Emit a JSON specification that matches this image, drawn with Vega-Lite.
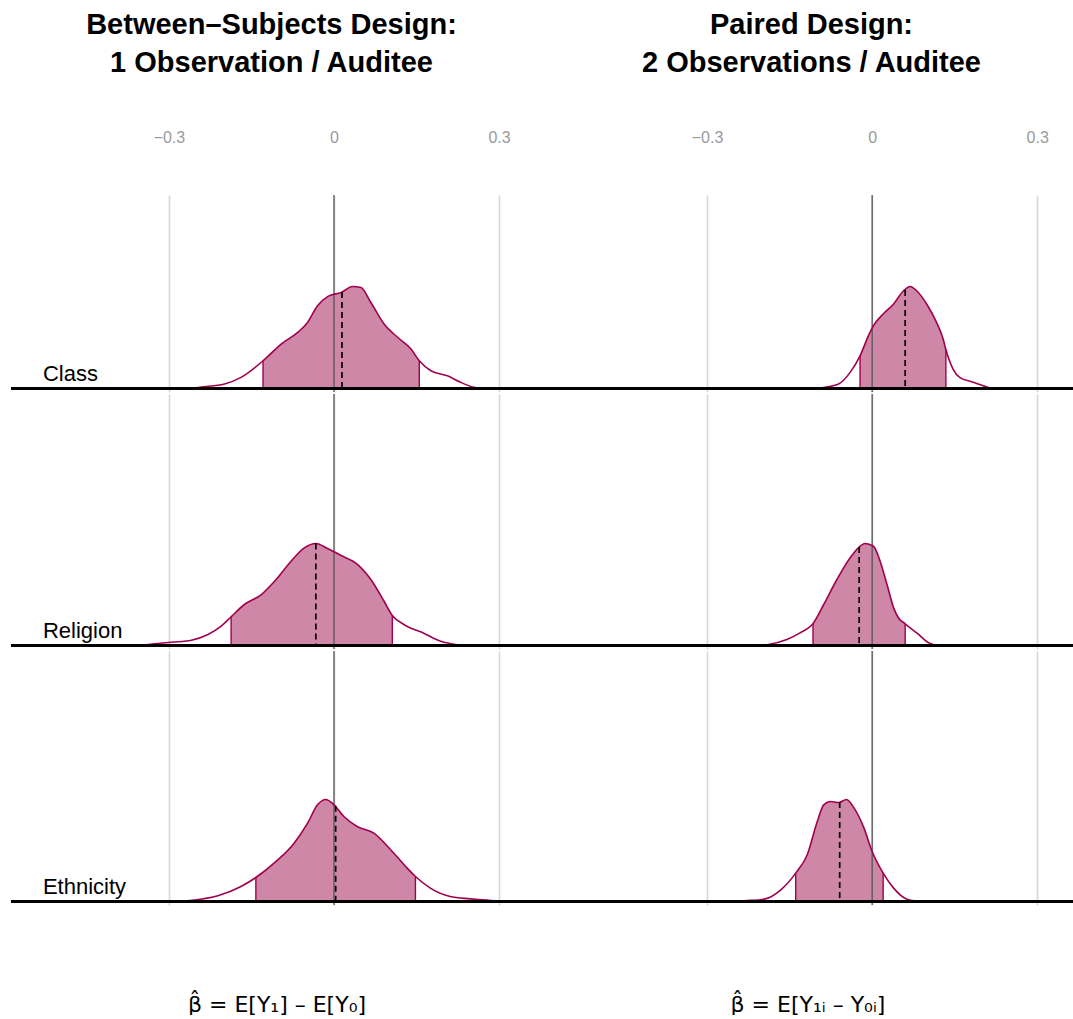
{
  "$schema": "https://vega.github.io/schema/vega-lite/v6.json",
  "padding": {"left": 9, "top": 11, "right": 0, "bottom": 0},
  "background": "white",
  "config": {
    "view": {"stroke": null},
    "font": "Liberation Sans",
    "axis": {"gridColor": "#d6d6d6", "gridWidth": 1.6, "domain": false, "ticks": false, "tickSize": 0, "labelFont": "Liberation Sans", "titleFont": "DejaVu Sans"},
    "title": {"font": "Liberation Sans", "fontSize": 29, "fontWeight": "bold", "color": "black", "lineHeight": 38, "anchor": "middle", "frame": "group"}
  },
  "datasets": {
    "curves": [
      {"d":"B","c":"Class","x":-0.259,"h":0,"i":0},
      {"d":"B","c":"Class","x":-0.244,"h":0.012,"i":0},
      {"d":"B","c":"Class","x":-0.199,"h":0.044,"i":0},
      {"d":"B","c":"Class","x":-0.169,"h":0.109,"i":0},
      {"d":"B","c":"Class","x":-0.129,"h":0.271,"i":1},
      {"d":"B","c":"Class","x":-0.096,"h":0.436,"i":1},
      {"d":"B","c":"Class","x":-0.066,"h":0.55,"i":1},
      {"d":"B","c":"Class","x":-0.048,"h":0.648,"i":1},
      {"d":"B","c":"Class","x":-0.03,"h":0.811,"i":1},
      {"d":"B","c":"Class","x":-0.011,"h":0.903,"i":1},
      {"d":"B","c":"Class","x":0.013,"h":0.942,"i":1},
      {"d":"B","c":"Class","x":0.034,"h":1.0,"i":1},
      {"d":"B","c":"Class","x":0.049,"h":0.99,"i":1},
      {"d":"B","c":"Class","x":0.067,"h":0.843,"i":1},
      {"d":"B","c":"Class","x":0.091,"h":0.632,"i":1},
      {"d":"B","c":"Class","x":0.116,"h":0.5,"i":1},
      {"d":"B","c":"Class","x":0.14,"h":0.387,"i":1},
      {"d":"B","c":"Class","x":0.155,"h":0.271,"i":1},
      {"d":"B","c":"Class","x":0.176,"h":0.174,"i":0},
      {"d":"B","c":"Class","x":0.206,"h":0.125,"i":0},
      {"d":"B","c":"Class","x":0.23,"h":0.061,"i":0},
      {"d":"B","c":"Class","x":0.254,"h":0.012,"i":0},
      {"d":"B","c":"Class","x":0.266,"h":0,"i":0},

      {"d":"P","c":"Class","x":-0.103,"h":0,"i":0},
      {"d":"P","c":"Class","x":-0.091,"h":0.008,"i":0},
      {"d":"P","c":"Class","x":-0.061,"h":0.044,"i":0},
      {"d":"P","c":"Class","x":-0.04,"h":0.158,"i":0},
      {"d":"P","c":"Class","x":-0.022,"h":0.32,"i":1},
      {"d":"P","c":"Class","x":-0.0067,"h":0.518,"i":1},
      {"d":"P","c":"Class","x":0.0024,"h":0.616,"i":1},
      {"d":"P","c":"Class","x":0.02,"h":0.73,"i":1},
      {"d":"P","c":"Class","x":0.039,"h":0.828,"i":1},
      {"d":"P","c":"Class","x":0.057,"h":0.958,"i":1},
      {"d":"P","c":"Class","x":0.069,"h":1.0,"i":1},
      {"d":"P","c":"Class","x":0.081,"h":0.958,"i":1},
      {"d":"P","c":"Class","x":0.099,"h":0.828,"i":1},
      {"d":"P","c":"Class","x":0.117,"h":0.648,"i":1},
      {"d":"P","c":"Class","x":0.129,"h":0.485,"i":1},
      {"d":"P","c":"Class","x":0.134,"h":0.38,"i":1},
      {"d":"P","c":"Class","x":0.147,"h":0.191,"i":0},
      {"d":"P","c":"Class","x":0.159,"h":0.109,"i":0},
      {"d":"P","c":"Class","x":0.184,"h":0.061,"i":0},
      {"d":"P","c":"Class","x":0.214,"h":0.008,"i":0},
      {"d":"P","c":"Class","x":0.223,"h":0,"i":0},

      {"d":"B","c":"Religion","x":-0.35,"h":0,"i":0},
      {"d":"B","c":"Religion","x":-0.338,"h":0.01,"i":0},
      {"d":"B","c":"Religion","x":-0.295,"h":0.032,"i":0},
      {"d":"B","c":"Religion","x":-0.259,"h":0.052,"i":0},
      {"d":"B","c":"Religion","x":-0.229,"h":0.108,"i":0},
      {"d":"B","c":"Religion","x":-0.205,"h":0.189,"i":0},
      {"d":"B","c":"Religion","x":-0.187,"h":0.281,"i":1},
      {"d":"B","c":"Religion","x":-0.163,"h":0.402,"i":1},
      {"d":"B","c":"Religion","x":-0.132,"h":0.5,"i":1},
      {"d":"B","c":"Religion","x":-0.108,"h":0.63,"i":1},
      {"d":"B","c":"Religion","x":-0.078,"h":0.826,"i":1},
      {"d":"B","c":"Religion","x":-0.054,"h":0.957,"i":1},
      {"d":"B","c":"Religion","x":-0.033,"h":1.0,"i":1},
      {"d":"B","c":"Religion","x":-0.011,"h":0.948,"i":1},
      {"d":"B","c":"Religion","x":0.013,"h":0.882,"i":1},
      {"d":"B","c":"Religion","x":0.043,"h":0.794,"i":1},
      {"d":"B","c":"Religion","x":0.067,"h":0.647,"i":1},
      {"d":"B","c":"Religion","x":0.091,"h":0.434,"i":1},
      {"d":"B","c":"Religion","x":0.106,"h":0.294,"i":1},
      {"d":"B","c":"Religion","x":0.127,"h":0.206,"i":0},
      {"d":"B","c":"Religion","x":0.164,"h":0.118,"i":0},
      {"d":"B","c":"Religion","x":0.194,"h":0.042,"i":0},
      {"d":"B","c":"Religion","x":0.224,"h":0.007,"i":0},
      {"d":"B","c":"Religion","x":0.234,"h":0,"i":0},

      {"d":"P","c":"Religion","x":-0.203,"h":0,"i":0},
      {"d":"P","c":"Religion","x":-0.191,"h":0.007,"i":0},
      {"d":"P","c":"Religion","x":-0.155,"h":0.059,"i":0},
      {"d":"P","c":"Religion","x":-0.131,"h":0.124,"i":0},
      {"d":"P","c":"Religion","x":-0.1075,"h":0.213,"i":1},
      {"d":"P","c":"Religion","x":-0.088,"h":0.402,"i":1},
      {"d":"P","c":"Religion","x":-0.064,"h":0.647,"i":1},
      {"d":"P","c":"Religion","x":-0.04,"h":0.86,"i":1},
      {"d":"P","c":"Religion","x":-0.025,"h":0.958,"i":1},
      {"d":"P","c":"Religion","x":-0.013,"h":1.0,"i":1},
      {"d":"P","c":"Religion","x":0.0024,"h":0.973,"i":1},
      {"d":"P","c":"Religion","x":0.0145,"h":0.826,"i":1},
      {"d":"P","c":"Religion","x":0.027,"h":0.598,"i":1},
      {"d":"P","c":"Religion","x":0.039,"h":0.369,"i":1},
      {"d":"P","c":"Religion","x":0.048,"h":0.27,"i":1},
      {"d":"P","c":"Religion","x":0.06,"h":0.213,"i":1},
      {"d":"P","c":"Religion","x":0.081,"h":0.124,"i":0},
      {"d":"P","c":"Religion","x":0.105,"h":0.02,"i":0},
      {"d":"P","c":"Religion","x":0.123,"h":0,"i":0},

      {"d":"B","c":"Ethnicity","x":-0.278,"h":0,"i":0},
      {"d":"B","c":"Ethnicity","x":-0.266,"h":0.007,"i":0},
      {"d":"B","c":"Ethnicity","x":-0.211,"h":0.056,"i":0},
      {"d":"B","c":"Ethnicity","x":-0.169,"h":0.147,"i":0},
      {"d":"B","c":"Ethnicity","x":-0.142,"h":0.235,"i":1},
      {"d":"B","c":"Ethnicity","x":-0.109,"h":0.376,"i":1},
      {"d":"B","c":"Ethnicity","x":-0.0725,"h":0.572,"i":1},
      {"d":"B","c":"Ethnicity","x":-0.048,"h":0.768,"i":1},
      {"d":"B","c":"Ethnicity","x":-0.03,"h":0.948,"i":1},
      {"d":"B","c":"Ethnicity","x":-0.015,"h":1.0,"i":1},
      {"d":"B","c":"Ethnicity","x":0.0,"h":0.948,"i":1},
      {"d":"B","c":"Ethnicity","x":0.018,"h":0.833,"i":1},
      {"d":"B","c":"Ethnicity","x":0.042,"h":0.735,"i":1},
      {"d":"B","c":"Ethnicity","x":0.0725,"h":0.67,"i":1},
      {"d":"B","c":"Ethnicity","x":0.103,"h":0.507,"i":1},
      {"d":"B","c":"Ethnicity","x":0.133,"h":0.327,"i":1},
      {"d":"B","c":"Ethnicity","x":0.148,"h":0.245,"i":1},
      {"d":"B","c":"Ethnicity","x":0.175,"h":0.131,"i":0},
      {"d":"B","c":"Ethnicity","x":0.211,"h":0.049,"i":0},
      {"d":"B","c":"Ethnicity","x":0.248,"h":0.026,"i":0},
      {"d":"B","c":"Ethnicity","x":0.296,"h":0.004,"i":0},
      {"d":"B","c":"Ethnicity","x":0.302,"h":0,"i":0},

      {"d":"P","c":"Ethnicity","x":-0.248,"h":0,"i":0},
      {"d":"P","c":"Ethnicity","x":-0.233,"h":0.007,"i":0},
      {"d":"P","c":"Ethnicity","x":-0.196,"h":0.023,"i":0},
      {"d":"P","c":"Ethnicity","x":-0.166,"h":0.114,"i":0},
      {"d":"P","c":"Ethnicity","x":-0.139,"h":0.278,"i":1},
      {"d":"P","c":"Ethnicity","x":-0.118,"h":0.458,"i":1},
      {"d":"P","c":"Ethnicity","x":-0.0997,"h":0.784,"i":1},
      {"d":"P","c":"Ethnicity","x":-0.088,"h":0.948,"i":1},
      {"d":"P","c":"Ethnicity","x":-0.0756,"h":0.98,"i":1},
      {"d":"P","c":"Ethnicity","x":-0.0605,"h":0.97,"i":1},
      {"d":"P","c":"Ethnicity","x":-0.0466,"h":1.0,"i":1},
      {"d":"P","c":"Ethnicity","x":-0.033,"h":0.918,"i":1},
      {"d":"P","c":"Ethnicity","x":-0.015,"h":0.722,"i":1},
      {"d":"P","c":"Ethnicity","x":0.0,"h":0.49,"i":1},
      {"d":"P","c":"Ethnicity","x":0.02,"h":0.278,"i":1},
      {"d":"P","c":"Ethnicity","x":0.039,"h":0.131,"i":0},
      {"d":"P","c":"Ethnicity","x":0.063,"h":0.023,"i":0},
      {"d":"P","c":"Ethnicity","x":0.082,"h":0.004,"i":0},
      {"d":"P","c":"Ethnicity","x":0.091,"h":0,"i":0}
    ],
    "marks": [
      {"d":"B","c":"Class","k":"e","x":-0.129,"h":0.271},
      {"d":"B","c":"Class","k":"e","x":0.155,"h":0.271},
      {"d":"B","c":"Class","k":"m","x":0.0145,"h":0.945},
      {"d":"P","c":"Class","k":"e","x":-0.022,"h":0.32},
      {"d":"P","c":"Class","k":"e","x":0.134,"h":0.38},
      {"d":"P","c":"Class","k":"m","x":0.06,"h":0.965},
      {"d":"B","c":"Religion","k":"e","x":-0.187,"h":0.281},
      {"d":"B","c":"Religion","k":"e","x":0.106,"h":0.294},
      {"d":"B","c":"Religion","k":"m","x":-0.033,"h":1.0},
      {"d":"P","c":"Religion","k":"e","x":-0.1075,"h":0.213},
      {"d":"P","c":"Religion","k":"e","x":0.06,"h":0.213},
      {"d":"P","c":"Religion","k":"m","x":-0.0236,"h":0.965},
      {"d":"B","c":"Ethnicity","k":"e","x":-0.142,"h":0.235},
      {"d":"B","c":"Ethnicity","k":"e","x":0.148,"h":0.245},
      {"d":"B","c":"Ethnicity","k":"m","x":0.003,"h":0.94},
      {"d":"P","c":"Ethnicity","k":"e","x":-0.139,"h":0.278},
      {"d":"P","c":"Ethnicity","k":"e","x":0.02,"h":0.278},
      {"d":"P","c":"Ethnicity","k":"m","x":-0.059,"h":0.975}
    ],
    "labels": [
      {"c":"Class"},
      {"c":"Religion"},
      {"c":"Ethnicity"}
    ]
  },
  "spacing": 0,
  "vconcat": [
    {
      "spacing": 0,
      "bounds": "flush",
      "hconcat": [
        {
          "width": 531, "height": 197,
          "title": {"text": ["Between–Subjects Design:", "1 Observation / Auditee"], "offset": 51, "dx": -5},
          "layer": [
            {"data": {"name": "curves"}, "transform": [{"filter": "datum.d=='B' && datum.c=='Class' && datum.i==1"}],
             "mark": {"type": "area", "color": "#CE87A7", "interpolate": "monotone"},
             "encoding": {
               "x": {"field": "x", "type": "quantitative", "scale": {"domain": [-0.587, 0.378], "nice": false, "zero": false},
                     "axis": {"orient": "top", "values": [-0.3, 0, 0.3], "grid": true, "labelPadding": 50, "labelFontSize": 16, "labelColor": "#9a9a9a", "labelExpr": "datum.value == 0 ? '0' : replace(format(datum.value, '.1f'), '-', '\u2212')", "title": null}},
               "y": {"field": "h", "type": "quantitative", "scale": {"domain": [-0.0343, 1.897], "nice": false, "zero": false}, "axis": null}}},
            {"data": {"values": [{}]}, "mark": {"type": "rule", "color": "#555555", "strokeWidth": 1.3},
             "encoding": {"x": {"datum": 0, "type": "quantitative"}}},
            {"data": {"name": "curves"}, "transform": [{"filter": "datum.d=='B' && datum.c=='Class'"}],
             "mark": {"type": "line", "color": "#A0004E", "strokeWidth": 1.6, "interpolate": "monotone"},
             "encoding": {"x": {"field": "x", "type": "quantitative"}, "y": {"field": "h", "type": "quantitative"}}},
            {"data": {"name": "marks"}, "transform": [{"filter": "datum.d=='B' && datum.c=='Class' && datum.k=='e'"}],
             "mark": {"type": "rule", "color": "#A0004E", "strokeWidth": 1.4},
             "encoding": {"x": {"field": "x", "type": "quantitative"}, "y": {"field": "h", "type": "quantitative"}, "y2": {"datum": 0}}},
            {"data": {"name": "marks"}, "transform": [{"filter": "datum.d=='B' && datum.c=='Class' && datum.k=='m'"}],
             "mark": {"type": "rule", "color": "black", "strokeWidth": 1.7, "strokeDash": [6, 4]},
             "encoding": {"x": {"field": "x", "type": "quantitative"}, "y": {"field": "h", "type": "quantitative"}, "y2": {"datum": 0}}},
            {"data": {"values": [{}]}, "mark": {"type": "rule", "color": "black", "strokeWidth": 3},
             "encoding": {"y": {"datum": 0, "type": "quantitative"}}},
            {"data": {"name": "labels"}, "transform": [{"filter": "datum.c=='Class'"}],
             "mark": {"type": "text", "align": "left", "baseline": "alphabetic", "dy": -8, "fontSize": 22, "color": "black"},
             "encoding": {"x": {"datum": -0.529, "type": "quantitative"}, "y": {"datum": 0, "type": "quantitative"}, "text": {"field": "c"}}}
          ]
        },
        {
          "width": 531, "height": 197,
          "title": {"text": ["Paired Design:", "2 Observations / Auditee"], "offset": 51, "dx": 4},
          "layer": [
            {"data": {"name": "curves"}, "transform": [{"filter": "datum.d=='P' && datum.c=='Class' && datum.i==1"}],
             "mark": {"type": "area", "color": "#CE87A7", "interpolate": "monotone"},
             "encoding": {
               "x": {"field": "x", "type": "quantitative", "scale": {"domain": [-0.6, 0.365], "nice": false, "zero": false},
                     "axis": {"orient": "top", "values": [-0.3, 0, 0.3], "grid": true, "labelPadding": 50, "labelFontSize": 16, "labelColor": "#9a9a9a", "labelExpr": "datum.value == 0 ? '0' : replace(format(datum.value, '.1f'), '-', '\u2212')", "title": null}},
               "y": {"field": "h", "type": "quantitative", "scale": {"domain": [-0.0343, 1.897], "nice": false, "zero": false}, "axis": null}}},
            {"data": {"values": [{}]}, "mark": {"type": "rule", "color": "#555555", "strokeWidth": 1.3},
             "encoding": {"x": {"datum": 0, "type": "quantitative"}}},
            {"data": {"name": "curves"}, "transform": [{"filter": "datum.d=='P' && datum.c=='Class'"}],
             "mark": {"type": "line", "color": "#A0004E", "strokeWidth": 1.6, "interpolate": "monotone"},
             "encoding": {"x": {"field": "x", "type": "quantitative"}, "y": {"field": "h", "type": "quantitative"}}},
            {"data": {"name": "marks"}, "transform": [{"filter": "datum.d=='P' && datum.c=='Class' && datum.k=='e'"}],
             "mark": {"type": "rule", "color": "#A0004E", "strokeWidth": 1.4},
             "encoding": {"x": {"field": "x", "type": "quantitative"}, "y": {"field": "h", "type": "quantitative"}, "y2": {"datum": 0}}},
            {"data": {"name": "marks"}, "transform": [{"filter": "datum.d=='P' && datum.c=='Class' && datum.k=='m'"}],
             "mark": {"type": "rule", "color": "black", "strokeWidth": 1.7, "strokeDash": [6, 4]},
             "encoding": {"x": {"field": "x", "type": "quantitative"}, "y": {"field": "h", "type": "quantitative"}, "y2": {"datum": 0}}},
            {"data": {"values": [{}]}, "mark": {"type": "rule", "color": "black", "strokeWidth": 3},
             "encoding": {"y": {"datum": 0, "type": "quantitative"}}}
          ]
        }
      ]
    },
    {
      "spacing": 0,
      "bounds": "flush",
      "hconcat": [
        {
          "width": 531, "height": 255,
          "layer": [
            {"data": {"name": "curves"}, "transform": [{"filter": "datum.d=='B' && datum.c=='Religion' && datum.i==1"}],
             "mark": {"type": "area", "color": "#CE87A7", "interpolate": "monotone"},
             "encoding": {
               "x": {"field": "x", "type": "quantitative", "scale": {"domain": [-0.587, 0.378], "nice": false, "zero": false},
                     "axis": {"orient": "top", "values": [-0.3, 0, 0.3], "grid": true, "labels": false, "title": null}},
               "y": {"field": "h", "type": "quantitative", "scale": {"domain": [-0.0343, 2.466], "nice": false, "zero": false}, "axis": null}}},
            {"data": {"values": [{}]}, "mark": {"type": "rule", "color": "#555555", "strokeWidth": 1.3},
             "encoding": {"x": {"datum": 0, "type": "quantitative"}}},
            {"data": {"name": "curves"}, "transform": [{"filter": "datum.d=='B' && datum.c=='Religion'"}],
             "mark": {"type": "line", "color": "#A0004E", "strokeWidth": 1.6, "interpolate": "monotone"},
             "encoding": {"x": {"field": "x", "type": "quantitative"}, "y": {"field": "h", "type": "quantitative"}}},
            {"data": {"name": "marks"}, "transform": [{"filter": "datum.d=='B' && datum.c=='Religion' && datum.k=='e'"}],
             "mark": {"type": "rule", "color": "#A0004E", "strokeWidth": 1.4},
             "encoding": {"x": {"field": "x", "type": "quantitative"}, "y": {"field": "h", "type": "quantitative"}, "y2": {"datum": 0}}},
            {"data": {"name": "marks"}, "transform": [{"filter": "datum.d=='B' && datum.c=='Religion' && datum.k=='m'"}],
             "mark": {"type": "rule", "color": "black", "strokeWidth": 1.7, "strokeDash": [6, 4]},
             "encoding": {"x": {"field": "x", "type": "quantitative"}, "y": {"field": "h", "type": "quantitative"}, "y2": {"datum": 0}}},
            {"data": {"values": [{}]}, "mark": {"type": "rule", "color": "black", "strokeWidth": 3},
             "encoding": {"y": {"datum": 0, "type": "quantitative"}}},
            {"data": {"name": "labels"}, "transform": [{"filter": "datum.c=='Religion'"}],
             "mark": {"type": "text", "align": "left", "baseline": "alphabetic", "dy": -8, "fontSize": 22, "color": "black"},
             "encoding": {"x": {"datum": -0.529, "type": "quantitative"}, "y": {"datum": 0, "type": "quantitative"}, "text": {"field": "c"}}}
          ]
        },
        {
          "width": 531, "height": 255,
          "layer": [
            {"data": {"name": "curves"}, "transform": [{"filter": "datum.d=='P' && datum.c=='Religion' && datum.i==1"}],
             "mark": {"type": "area", "color": "#CE87A7", "interpolate": "monotone"},
             "encoding": {
               "x": {"field": "x", "type": "quantitative", "scale": {"domain": [-0.6, 0.365], "nice": false, "zero": false},
                     "axis": {"orient": "top", "values": [-0.3, 0, 0.3], "grid": true, "labels": false, "title": null}},
               "y": {"field": "h", "type": "quantitative", "scale": {"domain": [-0.0343, 2.466], "nice": false, "zero": false}, "axis": null}}},
            {"data": {"values": [{}]}, "mark": {"type": "rule", "color": "#555555", "strokeWidth": 1.3},
             "encoding": {"x": {"datum": 0, "type": "quantitative"}}},
            {"data": {"name": "curves"}, "transform": [{"filter": "datum.d=='P' && datum.c=='Religion'"}],
             "mark": {"type": "line", "color": "#A0004E", "strokeWidth": 1.6, "interpolate": "monotone"},
             "encoding": {"x": {"field": "x", "type": "quantitative"}, "y": {"field": "h", "type": "quantitative"}}},
            {"data": {"name": "marks"}, "transform": [{"filter": "datum.d=='P' && datum.c=='Religion' && datum.k=='e'"}],
             "mark": {"type": "rule", "color": "#A0004E", "strokeWidth": 1.4},
             "encoding": {"x": {"field": "x", "type": "quantitative"}, "y": {"field": "h", "type": "quantitative"}, "y2": {"datum": 0}}},
            {"data": {"name": "marks"}, "transform": [{"filter": "datum.d=='P' && datum.c=='Religion' && datum.k=='m'"}],
             "mark": {"type": "rule", "color": "black", "strokeWidth": 1.7, "strokeDash": [6, 4]},
             "encoding": {"x": {"field": "x", "type": "quantitative"}, "y": {"field": "h", "type": "quantitative"}, "y2": {"datum": 0}}},
            {"data": {"values": [{}]}, "mark": {"type": "rule", "color": "black", "strokeWidth": 3},
             "encoding": {"y": {"datum": 0, "type": "quantitative"}}}
          ]
        }
      ]
    },
    {
      "spacing": 0,
      "bounds": "flush",
      "hconcat": [
        {
          "width": 531, "height": 254,
          "layer": [
            {"data": {"name": "curves"}, "transform": [{"filter": "datum.d=='B' && datum.c=='Ethnicity' && datum.i==1"}],
             "mark": {"type": "area", "color": "#CE87A7", "interpolate": "monotone"},
             "encoding": {
               "x": {"field": "x", "type": "quantitative", "scale": {"domain": [-0.587, 0.378], "nice": false, "zero": false},
                     "axis": {"orient": "bottom", "values": [-0.3, 0, 0.3], "grid": true, "labels": false, "title": "β̂ = E[Y₁] – E[Y₀]", "titleFontSize": 22, "titleFontWeight": "normal", "titleColor": "black", "titlePadding": 89, "titleDx": -5}},
               "y": {"field": "h", "type": "quantitative", "scale": {"domain": [-0.0343, 2.456], "nice": false, "zero": false}, "axis": null}}},
            {"data": {"values": [{}]}, "mark": {"type": "rule", "color": "#555555", "strokeWidth": 1.3},
             "encoding": {"x": {"datum": 0, "type": "quantitative"}}},
            {"data": {"name": "curves"}, "transform": [{"filter": "datum.d=='B' && datum.c=='Ethnicity'"}],
             "mark": {"type": "line", "color": "#A0004E", "strokeWidth": 1.6, "interpolate": "monotone"},
             "encoding": {"x": {"field": "x", "type": "quantitative"}, "y": {"field": "h", "type": "quantitative"}}},
            {"data": {"name": "marks"}, "transform": [{"filter": "datum.d=='B' && datum.c=='Ethnicity' && datum.k=='e'"}],
             "mark": {"type": "rule", "color": "#A0004E", "strokeWidth": 1.4},
             "encoding": {"x": {"field": "x", "type": "quantitative"}, "y": {"field": "h", "type": "quantitative"}, "y2": {"datum": 0}}},
            {"data": {"name": "marks"}, "transform": [{"filter": "datum.d=='B' && datum.c=='Ethnicity' && datum.k=='m'"}],
             "mark": {"type": "rule", "color": "black", "strokeWidth": 1.7, "strokeDash": [6, 4]},
             "encoding": {"x": {"field": "x", "type": "quantitative"}, "y": {"field": "h", "type": "quantitative"}, "y2": {"datum": 0}}},
            {"data": {"values": [{}]}, "mark": {"type": "rule", "color": "black", "strokeWidth": 3},
             "encoding": {"y": {"datum": 0, "type": "quantitative"}}},
            {"data": {"name": "labels"}, "transform": [{"filter": "datum.c=='Ethnicity'"}],
             "mark": {"type": "text", "align": "left", "baseline": "alphabetic", "dy": -8, "fontSize": 22, "color": "black"},
             "encoding": {"x": {"datum": -0.529, "type": "quantitative"}, "y": {"datum": 0, "type": "quantitative"}, "text": {"field": "c"}}}
          ]
        },
        {
          "width": 531, "height": 254,
          "layer": [
            {"data": {"name": "curves"}, "transform": [{"filter": "datum.d=='P' && datum.c=='Ethnicity' && datum.i==1"}],
             "mark": {"type": "area", "color": "#CE87A7", "interpolate": "monotone"},
             "encoding": {
               "x": {"field": "x", "type": "quantitative", "scale": {"domain": [-0.6, 0.365], "nice": false, "zero": false},
                     "axis": {"orient": "bottom", "values": [-0.3, 0, 0.3], "grid": true, "labels": false, "title": "β̂ = E[Y₁ᵢ – Y₀ᵢ]", "titleFontSize": 22, "titleFontWeight": "normal", "titleColor": "black", "titlePadding": 89, "titleDx": 8}},
               "y": {"field": "h", "type": "quantitative", "scale": {"domain": [-0.0343, 2.456], "nice": false, "zero": false}, "axis": null}}},
            {"data": {"values": [{}]}, "mark": {"type": "rule", "color": "#555555", "strokeWidth": 1.3},
             "encoding": {"x": {"datum": 0, "type": "quantitative"}}},
            {"data": {"name": "curves"}, "transform": [{"filter": "datum.d=='P' && datum.c=='Ethnicity'"}],
             "mark": {"type": "line", "color": "#A0004E", "strokeWidth": 1.6, "interpolate": "monotone"},
             "encoding": {"x": {"field": "x", "type": "quantitative"}, "y": {"field": "h", "type": "quantitative"}}},
            {"data": {"name": "marks"}, "transform": [{"filter": "datum.d=='P' && datum.c=='Ethnicity' && datum.k=='e'"}],
             "mark": {"type": "rule", "color": "#A0004E", "strokeWidth": 1.4},
             "encoding": {"x": {"field": "x", "type": "quantitative"}, "y": {"field": "h", "type": "quantitative"}, "y2": {"datum": 0}}},
            {"data": {"name": "marks"}, "transform": [{"filter": "datum.d=='P' && datum.c=='Ethnicity' && datum.k=='m'"}],
             "mark": {"type": "rule", "color": "black", "strokeWidth": 1.7, "strokeDash": [6, 4]},
             "encoding": {"x": {"field": "x", "type": "quantitative"}, "y": {"field": "h", "type": "quantitative"}, "y2": {"datum": 0}}},
            {"data": {"values": [{}]}, "mark": {"type": "rule", "color": "black", "strokeWidth": 3},
             "encoding": {"y": {"datum": 0, "type": "quantitative"}}}
          ]
        }
      ]
    }
  ]
}
